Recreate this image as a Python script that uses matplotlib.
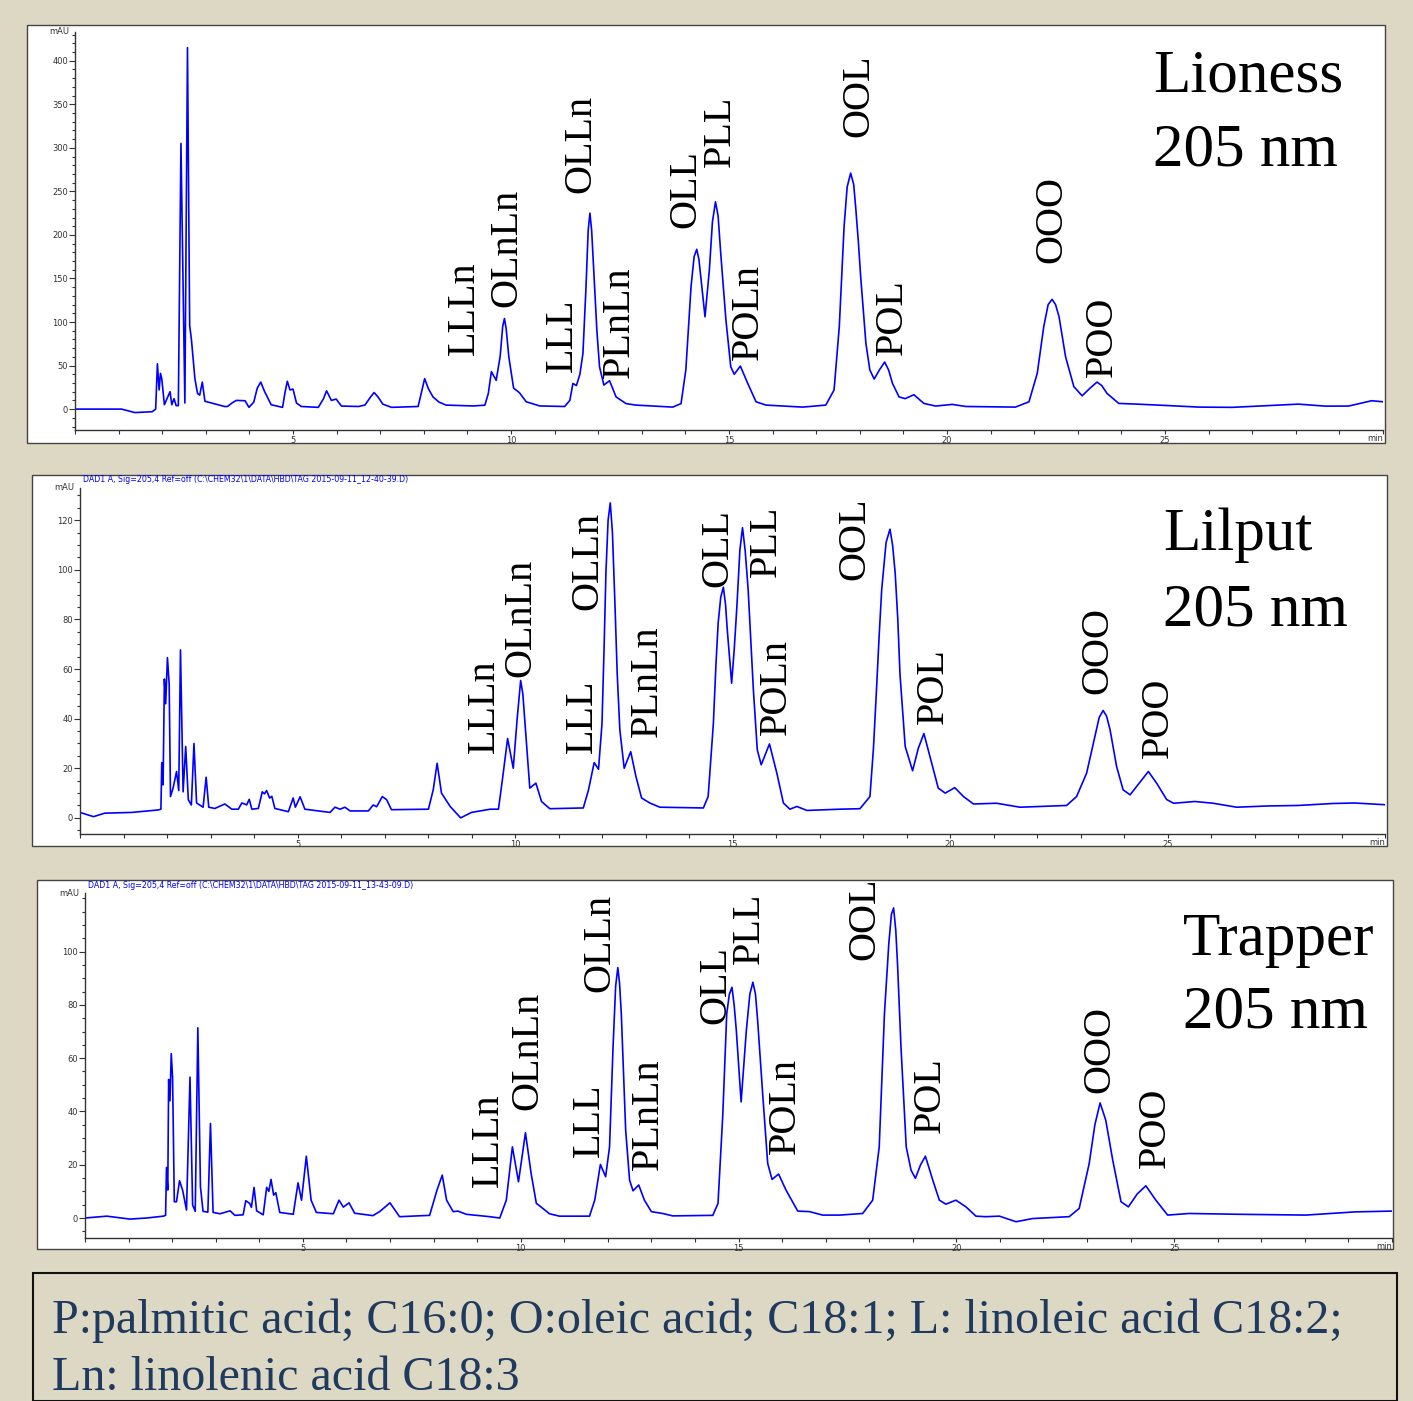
import matplotlib.pyplot as plt
from matplotlib.patches import Rectangle
from matplotlib.ticker import MultipleLocator

# ---- data: (time in min, signal in mAU) ----
trace_lioness = [
    (0, 0), (1.07, 0), (1.37, -4), (1.77, -3), (1.85, 0), (1.89, 52), (1.93, 22), (1.96, 41),
    (1.99, 35), (2.05, 5), (2.18, 20), (2.22, 5), (2.27, 12), (2.32, 4), (2.37, 4), (2.43, 305),
    (2.52, 7), (2.58, 415), (2.63, 96), (2.67, 80), (2.71, 58), (2.75, 35), (2.81, 18),
    (2.86, 16), (2.92, 31), (2.98, 9), (3.13, 7), (3.43, 3), (3.50, 3), (3.60, 7), (3.70, 10),
    (3.90, 9.6), (3.99, 2), (4.10, 8), (4.18, 24), (4.26, 31), (4.35, 20), (4.50, 5), (4.76, 2),
    (4.82, 20), (4.87, 32), (4.93, 22), (5.00, 23), (5.08, 7), (5.19, 3), (5.58, 2), (5.70, 12),
    (5.77, 21), (5.88, 10), (5.99, 11.5), (6.11, 3.5), (6.50, 3), (6.65, 4.6), (6.78, 14),
    (6.86, 19), (6.95, 14), (7.06, 5.7), (7.26, 2), (7.87, 3), (7.95, 20), (8.02, 35),
    (8.10, 24), (8.21, 14), (8.35, 8), (8.51, 4.6), (9.13, 3.6), (9.40, 4.5), (9.48, 18),
    (9.55, 43), (9.66, 33), (9.75, 60), (9.81, 95), (9.85, 104), (9.89, 92), (9.95, 60),
    (10.06, 24), (10.19, 19), (10.35, 8.4), (10.66, 3.6), (11.23, 3), (11.35, 10), (11.42, 29.5),
    (11.50, 27), (11.58, 40), (11.65, 64), (11.72, 140), (11.77, 205), (11.81, 225),
    (11.85, 205), (11.91, 148), (11.97, 90), (12.03, 48.7), (12.13, 27.6), (12.26, 32.6),
    (12.41, 14), (12.64, 6.3), (12.86, 4.6), (13.71, 2.3), (13.90, 6.3), (14.01, 45),
    (14.13, 141), (14.20, 175), (14.26, 183.5), (14.31, 172), (14.36, 148), (14.45, 106),
    (14.55, 160), (14.62, 215), (14.69, 238), (14.75, 222), (14.81, 179), (14.87, 140),
    (14.93, 102), (15.04, 48.7), (15.12, 40), (15.26, 49.4), (15.43, 29.5), (15.62, 8.4),
    (15.85, 4.6), (16.69, 2.3), (17.22, 4.6), (17.41, 22), (17.53, 95), (17.64, 210),
    (17.71, 255), (17.79, 271), (17.86, 258), (17.91, 229), (17.97, 190), (18.02, 152),
    (18.14, 75.5), (18.23, 45), (18.33, 34.5), (18.45, 45), (18.57, 54), (18.66, 45),
    (18.75, 29.5), (18.90, 14), (19.04, 12), (19.24, 16.5), (19.47, 6.5), (19.74, 3.5),
    (20.12, 5.4), (20.43, 3), (21.57, 2.3), (21.88, 8.4), (22.07, 41), (22.22, 95),
    (22.32, 120), (22.41, 126), (22.49, 120), (22.57, 106), (22.72, 60), (22.91, 25.7),
    (23.10, 15.3), (23.28, 24), (23.44, 31), (23.55, 27), (23.67, 18), (23.94, 6.5),
    (24.32, 5.8), (25.01, 4.2), (25.77, 2.3), (26.54, 2), (28.06, 5.7), (28.68, 3.4),
    (29.21, 3.5), (29.74, 9.6), (30.0, 8.4)]

trace_lilput = [
    (0, 2.2), (0.31, 0.5), (0.57, 1.9), (1.19, 2.2), (1.80, 3.2), (1.86, 3.5), (1.88, 22.3),
    (1.91, 13.3), (1.94, 56), (1.97, 46), (2.01, 64.6), (2.05, 54), (2.08, 8.6), (2.14, 12),
    (2.22, 18.7), (2.27, 11), (2.31, 67.7), (2.37, 10.5), (2.43, 28.8), (2.49, 7.3), (2.56, 5.2),
    (2.62, 30), (2.68, 6), (2.83, 4.3), (2.90, 16.4), (2.96, 4.3), (3.10, 3.8), (3.33, 5.6),
    (3.49, 3.5), (3.64, 3.5), (3.72, 6), (3.80, 5.5), (3.83, 5.2), (3.89, 7.5), (3.95, 3.5),
    (4.10, 3.8), (4.19, 10.5), (4.24, 9.7), (4.29, 11), (4.36, 8), (4.41, 8.7), (4.48, 3.8),
    (4.79, 2.5), (4.90, 8), (4.95, 4.3), (5.06, 8.5), (5.17, 3.5), (5.63, 2.5), (5.75, 2.2),
    (5.86, 4.3), (5.98, 3.5), (6.09, 4.3), (6.21, 2.8), (6.63, 2.8), (6.74, 5.2), (6.82, 4.5),
    (6.95, 8.6), (7.05, 7.3), (7.16, 3.3), (8.01, 3.5), (8.12, 11.3), (8.21, 22), (8.31, 10),
    (8.51, 4.6), (8.62, 2.5), (8.75, 0), (9.00, 2.2), (9.43, 3.5), (9.62, 3.5), (9.72, 16.7),
    (9.83, 32), (9.96, 20), (10.05, 40), (10.13, 55.4), (10.18, 50), (10.23, 38), (10.34, 12),
    (10.48, 14), (10.61, 6.6), (10.80, 3.7), (11.57, 4), (11.69, 11.3), (11.82, 22.3),
    (11.92, 19.6), (12.00, 38), (12.05, 70), (12.09, 98.7), (12.14, 120), (12.19, 127),
    (12.24, 115), (12.30, 85), (12.35, 58), (12.41, 35.5), (12.51, 20), (12.66, 26.7),
    (12.78, 16.7), (12.91, 8), (13.10, 6), (13.33, 4.3), (14.33, 4), (14.44, 8.6), (14.56, 38),
    (14.62, 62), (14.67, 78.5), (14.73, 89), (14.79, 93), (14.84, 86), (14.88, 75.8),
    (14.98, 54.3), (15.04, 68), (15.10, 85), (15.17, 108), (15.23, 117), (15.29, 108),
    (15.36, 92), (15.42, 72), (15.48, 51.6), (15.57, 27.4), (15.66, 21.4), (15.85, 29.8),
    (16.02, 18), (16.17, 6), (16.32, 3.5), (16.48, 4.6), (16.71, 3), (17.47, 3.5), (17.93, 3.7),
    (18.16, 8.6), (18.24, 28), (18.31, 51.6), (18.37, 73), (18.43, 92), (18.53, 111),
    (18.62, 116.4), (18.68, 110), (18.74, 98.7), (18.80, 80), (18.85, 58), (18.97, 28.8),
    (19.14, 19), (19.27, 28), (19.40, 34), (19.58, 22), (19.73, 12), (19.89, 10), (20.11, 12.2),
    (20.31, 8.6), (20.54, 5.6), (21.07, 5.9), (21.61, 4.3), (22.68, 5), (22.91, 8.6),
    (23.14, 18), (23.33, 32.8), (23.43, 40.5), (23.52, 43.3), (23.60, 41), (23.68, 35.5),
    (23.83, 20.7), (23.98, 11.3), (24.14, 9.3), (24.35, 14), (24.56, 18.7), (24.75, 14),
    (24.98, 7.4), (25.14, 5.9), (25.63, 6.6), (26.05, 5.9), (26.59, 4.3), (27.3, 4.8),
    (28.0, 5.0), (28.8, 5.8), (29.3, 6.0), (30.0, 5.3)]

trace_trapper = [
    (0, 0), (0.50, 0.7), (1.03, -0.4), (1.41, 0), (1.80, 0.7), (1.85, 1), (1.87, 19),
    (1.90, 10.5), (1.92, 52), (1.95, 44), (1.98, 61.7), (2.01, 52.8), (2.05, 6.1), (2.10, 6.1),
    (2.17, 14), (2.24, 10.5), (2.33, 3), (2.41, 52.9), (2.47, 4.9), (2.53, 2.5), (2.59, 71.4),
    (2.65, 11.7), (2.71, 2.5), (2.82, 2.2), (2.88, 35.5), (2.94, 2.1), (3.10, 1.6), (3.33, 2.7),
    (3.44, 1), (3.63, 1.2), (3.69, 6.5), (3.78, 5.5), (3.82, 4), (3.88, 11.5), (3.94, 2.7),
    (4.09, 1.2), (4.17, 11.5), (4.22, 10), (4.27, 14.5), (4.33, 8.6), (4.38, 9.5), (4.47, 2.1),
    (4.78, 1.4), (4.89, 13.2), (4.97, 6.7), (5.08, 23.2), (5.19, 6.7), (5.31, 2.1), (5.70, 1.6),
    (5.83, 6.7), (5.93, 4.1), (6.06, 5.7), (6.19, 1.8), (6.61, 0.9), (6.77, 2.5), (7.00, 5.7),
    (7.22, 0.5), (7.91, 1), (8.08, 10.5), (8.20, 16.1), (8.30, 6.7), (8.45, 2.4), (8.56, 2.6),
    (8.75, 1.4), (9.29, 0.5), (9.52, 0), (9.67, 6.7), (9.81, 26.7), (9.95, 13.6), (10.11, 32),
    (10.24, 16.7), (10.36, 5.5), (10.51, 3.6), (10.66, 1.6), (10.89, 0.7), (11.58, 0.7),
    (11.70, 6.7), (11.83, 20.1), (11.95, 15.5), (12.04, 26.7), (12.12, 64), (12.18, 87),
    (12.23, 94), (12.27, 88), (12.31, 76.7), (12.41, 33), (12.50, 14.2), (12.58, 10.2),
    (12.71, 12.4), (12.84, 6.7), (13.00, 2.4), (13.26, 1.7), (13.49, 0.8), (14.41, 1),
    (14.53, 5.5), (14.64, 39), (14.73, 76.7), (14.79, 84), (14.85, 86.6), (14.90, 80),
    (14.95, 70.4), (15.06, 43.6), (15.18, 70.4), (15.26, 84), (15.33, 88.5), (15.39, 84),
    (15.44, 74), (15.56, 45.4), (15.67, 20.5), (15.77, 14.5), (15.92, 16.5), (16.09, 10.5),
    (16.36, 2.6), (16.63, 2.4), (16.93, 1.1), (17.32, 1.1), (17.85, 1.7), (18.08, 6.7),
    (18.23, 26.7), (18.35, 76.7), (18.45, 103), (18.51, 114), (18.56, 116.4), (18.61, 108),
    (18.65, 95.4), (18.73, 64), (18.85, 26.7), (18.96, 18), (19.06, 14.9), (19.18, 20),
    (19.29, 23.2), (19.46, 14.2), (19.61, 6.7), (19.76, 5.2), (19.99, 6.7), (20.22, 4.2),
    (20.45, 0.7), (20.67, 0.5), (20.99, 0.7), (21.37, -1.4), (21.75, -0.2), (22.59, 0.5),
    (22.82, 3.6), (23.05, 20.5), (23.18, 35), (23.30, 43.2), (23.43, 36.7), (23.59, 21.7),
    (23.78, 6.1), (23.95, 4.2), (24.15, 9), (24.35, 12.1), (24.58, 6.7), (24.85, 1.1),
    (25.34, 1.7), (26.49, 1.4), (28.02, 1.1), (28.78, 1.9), (29.15, 2.3), (30.0, 2.6)]

# peak labels: name, time, signal at the foot of the label
names = ['LLLn', 'OLnLn', 'LLL', 'OLLn', 'PLnLn', 'OLL', 'PLL', 'POLn', 'OOL', 'POL', 'OOO', 'POO']
lab_t1 = [8.93, 9.90, 11.18, 11.61, 12.49, 14.0, 14.8, 15.44, 17.98, 18.74, 22.41, 23.57]
lab_y1 = [62, 117, 42.5, 248, 36, 208, 278, 56, 313, 62, 168, 37]
lab_t2 = [9.29, 10.14, 11.55, 11.68, 13.05, 14.67, 15.78, 16.0, 17.82, 19.61, 23.40, 24.78]
lab_y2 = [26, 57, 26, 84, 32.6, 93, 97, 33.5, 96, 38, 50, 24]
lab_t3 = [9.27, 10.17, 11.57, 11.82, 12.92, 14.47, 15.24, 16.08, 17.91, 19.40, 23.29, 24.58]
lab_y3 = [11.6, 40.4, 23, 85, 18, 73, 95.5, 24, 97, 32, 47, 18.7]

samples = ['Lioness', 'Lilput', 'Trapper']
headers = [None,
           r'DAD1 A, Sig=205,4 Ref=off (C:\CHEM32\1\DATA\HBD\TAG 2015-09-11_12-40-39.D)',
           r'DAD1 A, Sig=205,4 Ref=off (C:\CHEM32\1\DATA\HBD\TAG 2015-09-11_13-43-09.D)']

W, H = 1413, 1401
BG = '#DDD8C3'
fig = plt.figure(figsize=(W / 100, H / 100), dpi=100, facecolor=BG)


def frac(x0, y0, x1, y1):
    return [x0 / W, 1 - y1 / H, (x1 - x0) / W, (y1 - y0) / H]


# white frames and axes boxes in pixels
frames = [(27, 25, 1385, 443), (32, 475, 1387, 846), (37, 880, 1393, 1249)]
boxes = [(75, 32, 1383, 430), (80, 488, 1385, 834), (85, 893, 1392, 1238)]
ylims = [(-24, 433), (-6.5, 133), (-7.5, 122)]
ymaj = [50, 20, 20]
ymin = [10, 5, 5]
ytop = [400, 120, 100]
sample_pos = [(1153, 92, 165), (1163, 550, 625), (1183, 955, 1028)]

data = [(trace_lioness, lab_t1, lab_y1), (trace_lilput, lab_t2, lab_y2),
        (trace_trapper, lab_t3, lab_y3)]
serif = 'Liberation Serif'

for i in range(3):
    fx0, fy0, fx1, fy1 = frames[i]
    fig.add_artist(Rectangle((fx0 / W, 1 - fy1 / H), (fx1 - fx0) / W, (fy1 - fy0) / H,
                             transform=fig.transFigure, facecolor='white',
                             edgecolor='#444444', lw=1.0, zorder=0))
    ax = fig.add_axes(frac(*boxes[i]))
    ax.set_facecolor('none')
    trace, lt, ly = data[i]
    t = [p[0] for p in trace]
    y = [p[1] for p in trace]
    ax.plot(t, y, color='#0000FF', lw=1.2, solid_joinstyle='round')
    ax.set_xlim(0, 30)
    ax.set_ylim(*ylims[i])
    for s in ['top', 'right']:
        ax.spines[s].set_visible(False)
    for s in ['left', 'bottom']:
        ax.spines[s].set_color('#333333')
        ax.spines[s].set_linewidth(1.0)
    ax.xaxis.set_minor_locator(MultipleLocator(1))
    ax.set_xticks([5, 10, 15, 20, 25])
    ax.set_xticklabels(['5', '10', '15', '20', '25'])
    ax.set_yticks(list(range(0, ytop[i] + 1, ymaj[i])))
    ax.yaxis.set_minor_locator(MultipleLocator(ymin[i]))
    ax.tick_params(axis='both', which='both', direction='out', labelsize=6,
                   colors='#333333', width=0.8)
    ax.tick_params(axis='x', which='both', length=3, pad=1)
    ax.tick_params(axis='y', which='major', length=4, pad=1)
    ax.tick_params(axis='y', which='minor', length=2.5)
    axw = boxes[i][2] - boxes[i][0]
    axh = boxes[i][3] - boxes[i][1]
    ax.text(-6 / axw, 1.0, 'mAU', transform=ax.transAxes, ha='right', va='center',
            fontsize=6, color='#333333')
    ax.text(1.0, -4 / axh, 'min', transform=ax.transAxes, ha='right', va='top',
            fontsize=6, color='#333333')
    if headers[i]:
        ax.text(3 / axw, 1.0 + 8 / axh, headers[i], transform=ax.transAxes,
                ha='left', va='center', fontsize=5.7, color='#0000FF')

    for name, xt, yt in zip(names, lt, ly):
        ax.text(xt, yt, name, rotation=90, ha='center', va='bottom', fontsize=29,
                family=serif, color='black', clip_on=False)

    sx, sy1, sy2 = sample_pos[i]
    fig.text(sx / W, 1 - sy1 / H, samples[i], ha='left', va='baseline', fontsize=44,
             family=serif, color='black')
    fig.text(sx / W, 1 - sy2 / H, '205 nm', ha='left', va='baseline', fontsize=44,
             family=serif, color='black')

# legend box at the bottom
fig.add_artist(Rectangle((33 / W, 0), (1397 - 33) / W, (1401 - 1273) / H,
                         transform=fig.transFigure, facecolor=BG, edgecolor='#111111',
                         lw=1.5, zorder=0))
fig.text(52 / W, 1 - 1333 / H,
         'P:palmitic acid; C16:0; O:oleic acid; C18:1; L: linoleic acid C18:2;',
         ha='left', va='baseline', fontsize=34.6, family=serif, color='#1F3A5F')
fig.text(52 / W, 1 - 1390 / H, 'Ln: linolenic acid C18:3',
         ha='left', va='baseline', fontsize=34.6, family=serif, color='#1F3A5F')

fig.savefig('out.png', dpi=100, facecolor=BG)
